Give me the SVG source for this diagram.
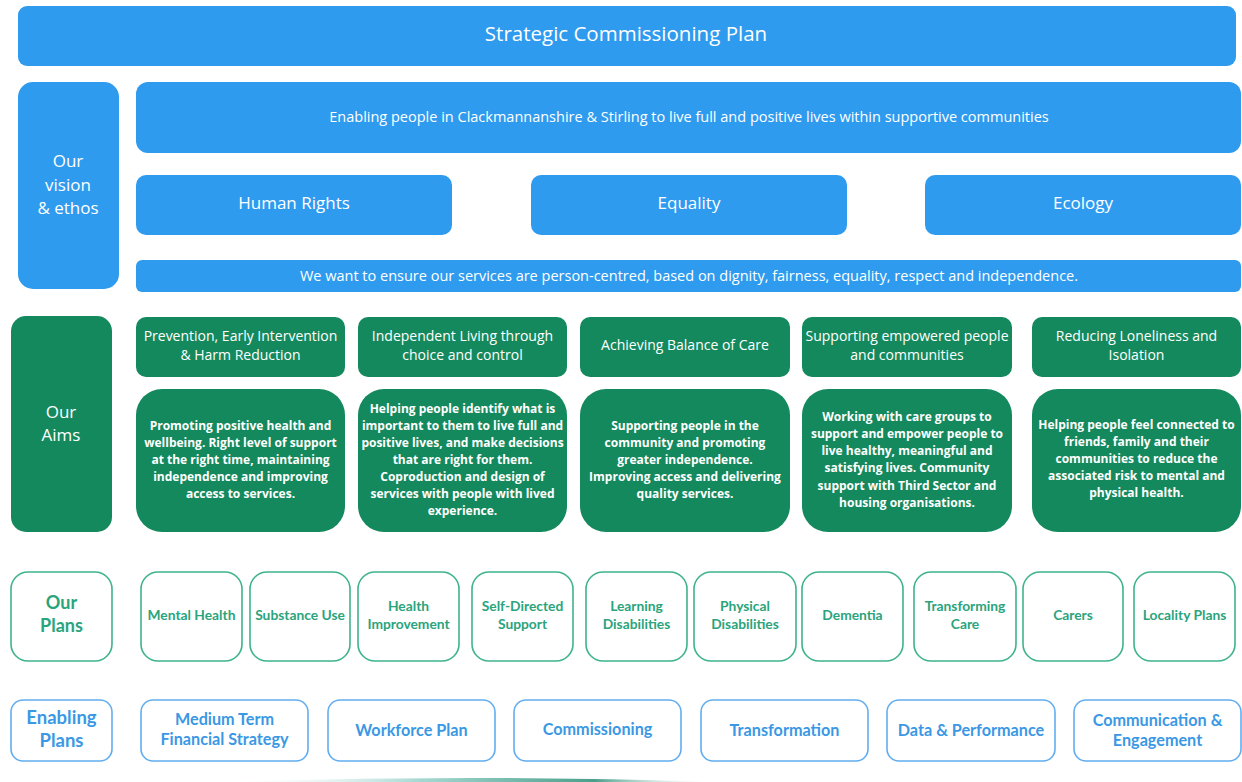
<svg xmlns="http://www.w3.org/2000/svg" width="1242" height="782" viewBox="0 0 1242 782">
<defs>
<style>
.b{fill:#2e9bef}
.g{fill:#14895d}
.pl{fill:#fff;stroke:#3fb48c;stroke-width:1.6}
.en{fill:#fff;stroke:#62adf0;stroke-width:1.6}
text{font-family:"Open Sans","DejaVu Sans",sans-serif;fill:#fff;text-anchor:middle}
.t1{font-size:20.5px}
.t2{font-size:17px}
.t3{font-size:14.5px}
.t4{font-size:14px}
.t5{font-size:12px;font-weight:700}
.p{font-family:Lato,"Liberation Sans",sans-serif;font-weight:700;font-size:13.8px;fill:#2aa47c}
.pL{font-family:Lato,"Liberation Sans",sans-serif;font-weight:700;font-size:18px;fill:#2aa47c}
.e{font-family:Lato,"Liberation Sans",sans-serif;font-weight:700;font-size:16.2px;fill:#3a98e4}
.eL{font-family:Lato,"Liberation Sans",sans-serif;font-weight:700;font-size:18.5px;fill:#3a98e4}
</style>
<linearGradient id="sw" x1="0" y1="0" x2="1" y2="0">
<stop offset="0" stop-color="#ffffff" stop-opacity="0"/>
<stop offset="0.4" stop-color="#a6d8d2"/>
<stop offset="0.75" stop-color="#4a9f8a"/>
<stop offset="1" stop-color="#ffffff" stop-opacity="0"/>
</linearGradient>
</defs>
<rect width="1242" height="782" fill="#fff"/>

<g id="title"><rect class="b" x="18" y="6" width="1218" height="60" rx="9"/><text class="t1" x="626" y="41">Strategic Commissioning Plan</text></g>

<g id="vision"><rect class="b" x="18" y="82" width="101" height="207" rx="15"/>
<text class="t2" x="68" y="167">Our</text><text class="t2" x="68" y="191">vision</text><text class="t2" x="68" y="214">&amp; ethos</text></g>
<g id="enabling-people"><rect class="b" x="136" y="82" width="1105" height="71" rx="12"/><text class="t3" x="689" y="122">Enabling people in Clackmannanshire &amp; Stirling to live full and positive lives within supportive communities</text></g>
<g id="human-rights"><rect class="b" x="136" y="175" width="316" height="60" rx="10"/><text class="t2" x="294" y="209">Human Rights</text></g>
<g id="equality"><rect class="b" x="531" y="175" width="316" height="60" rx="10"/><text class="t2" x="689" y="209">Equality</text></g>
<g id="ecology"><rect class="b" x="925" y="175" width="316" height="60" rx="10"/><text class="t2" x="1083" y="209">Ecology</text></g>
<g id="ethos"><rect class="b" x="136" y="260" width="1105" height="32" rx="6"/><text class="t3" x="689" y="281">We want to ensure our services are person-centred, based on dignity, fairness, equality, respect and independence.</text></g>

<g id="aims"><rect class="g" x="11" y="316" width="101" height="216" rx="15"/>
<text class="t2" x="61" y="418">Our</text><text class="t2" x="61" y="441">Aims</text></g>

<g id="aim1-title"><rect class="g" x="136" y="317" width="209" height="60" rx="10"/><text class="t4" x="240.5" y="341">Prevention,  Early Intervention</text><text class="t4" x="240.5" y="360">&amp; Harm Reduction</text></g>
<g id="aim2-title"><rect class="g" x="358" y="317" width="209" height="60" rx="10"/><text class="t4" x="462.5" y="341">Independent Living through</text><text class="t4" x="462.5" y="360">choice and control</text></g>
<g id="aim3-title"><rect class="g" x="580" y="317" width="210" height="60" rx="10"/><text class="t4" x="685" y="350">Achieving Balance of Care</text></g>
<g id="aim4-title"><rect class="g" x="802" y="317" width="210" height="60" rx="10"/><text class="t4" x="907" y="341">Supporting empowered people</text><text class="t4" x="907" y="360">and communities</text></g>
<g id="aim5-title"><rect class="g" x="1032" y="317" width="209" height="60" rx="10"/><text class="t4" x="1136.5" y="341">Reducing Loneliness and</text><text class="t4" x="1136.5" y="360">Isolation</text></g>

<g id="aim1-desc"><rect class="g" x="136" y="389" width="209" height="143" rx="26"/>
<text class="t5" x="240.5" y="430">Promoting positive health and</text>
<text class="t5" x="240.5" y="447">wellbeing.  Right level of support</text>
<text class="t5" x="240.5" y="464">at the right time, maintaining</text>
<text class="t5" x="240.5" y="481">independence and improving</text>
<text class="t5" x="240.5" y="498">access to services.</text></g>
<g id="aim2-desc"><rect class="g" x="358" y="389" width="209" height="143" rx="26"/>
<text class="t5" x="462.5" y="413">Helping people identify what is</text>
<text class="t5" x="462.5" y="430">important to them to live full and</text>
<text class="t5" x="462.5" y="447">positive lives, and make decisions</text>
<text class="t5" x="462.5" y="464">that are right for them.</text>
<text class="t5" x="462.5" y="481">Coproduction and design of</text>
<text class="t5" x="462.5" y="498">services with people with lived</text>
<text class="t5" x="462.5" y="515">experience.</text></g>
<g id="aim3-desc"><rect class="g" x="580" y="389" width="210" height="143" rx="26"/>
<text class="t5" x="685" y="430">Supporting people in the</text>
<text class="t5" x="685" y="447">community and promoting</text>
<text class="t5" x="685" y="464">greater independence.</text>
<text class="t5" x="685" y="481">Improving access and delivering</text>
<text class="t5" x="685" y="498">quality services.</text></g>
<g id="aim4-desc"><rect class="g" x="802" y="389" width="210" height="143" rx="26"/>
<text class="t5" x="907" y="421">Working with care groups to</text>
<text class="t5" x="907" y="438">support and empower people to</text>
<text class="t5" x="907" y="455">live healthy, meaningful and</text>
<text class="t5" x="907" y="472">satisfying lives.  Community</text>
<text class="t5" x="907" y="490">support with Third Sector and</text>
<text class="t5" x="907" y="507">housing organisations.</text></g>
<g id="aim5-desc"><rect class="g" x="1032" y="389" width="209" height="143" rx="26"/>
<text class="t5" x="1136.5" y="429">Helping people feel connected to</text>
<text class="t5" x="1136.5" y="446">friends, family and their</text>
<text class="t5" x="1136.5" y="463">communities to reduce the</text>
<text class="t5" x="1136.5" y="480">associated risk to mental and</text>
<text class="t5" x="1136.5" y="497">physical health.</text></g>

<g id="our-plans"><rect class="pl" x="11" y="572" width="101" height="89" rx="17"/><text class="pL" x="61.5" y="609">Our</text><text class="pL" x="61.5" y="632">Plans</text></g>
<g id="plan-mental-health"><rect class="pl" x="141" y="572" width="101" height="89" rx="17"/><text class="p" x="191.5" y="620">Mental Health</text></g>
<g id="plan-substance-use"><rect class="pl" x="250" y="572" width="100" height="89" rx="17"/><text class="p" x="300" y="620">Substance Use</text></g>
<g id="plan-health-improvement"><rect class="pl" x="358" y="572" width="101" height="89" rx="17"/><text class="p" x="408.5" y="611">Health</text><text class="p" x="408.5" y="629">Improvement</text></g>
<g id="plan-sds"><rect class="pl" x="472" y="572" width="101" height="89" rx="17"/><text class="p" x="522.5" y="611">Self-Directed</text><text class="p" x="522.5" y="629">Support</text></g>
<g id="plan-ld"><rect class="pl" x="586" y="572" width="101" height="89" rx="17"/><text class="p" x="636.5" y="611">Learning</text><text class="p" x="636.5" y="629">Disabilities</text></g>
<g id="plan-pd"><rect class="pl" x="694" y="572" width="102" height="89" rx="17"/><text class="p" x="745" y="611">Physical</text><text class="p" x="745" y="629">Disabilities</text></g>
<g id="plan-dementia"><rect class="pl" x="802" y="572" width="101" height="89" rx="17"/><text class="p" x="852.5" y="620">Dementia</text></g>
<g id="plan-tc"><rect class="pl" x="914" y="572" width="102" height="89" rx="17"/><text class="p" x="965" y="611">Transforming</text><text class="p" x="965" y="629">Care</text></g>
<g id="plan-carers"><rect class="pl" x="1023" y="572" width="100" height="89" rx="17"/><text class="p" x="1073" y="620">Carers</text></g>
<g id="plan-locality"><rect class="pl" x="1134" y="572" width="101" height="89" rx="17"/><text class="p" x="1184.5" y="620">Locality Plans</text></g>

<g id="enabling-plans"><rect class="en" x="11" y="700" width="101" height="61" rx="12"/><text class="eL" x="61.5" y="724">Enabling</text><text class="eL" x="61.5" y="747">Plans</text></g>
<g id="ep-mtfs"><rect class="en" x="141" y="700" width="167" height="61" rx="12"/><text class="e" x="224.5" y="725">Medium Term</text><text class="e" x="224.5" y="745">Financial Strategy</text></g>
<g id="ep-workforce"><rect class="en" x="328" y="700" width="167" height="61" rx="12"/><text class="e" x="411.5" y="736">Workforce Plan</text></g>
<g id="ep-commissioning"><rect class="en" x="514" y="700" width="167" height="61" rx="12"/><text class="e" x="597.5" y="735">Commissioning</text></g>
<g id="ep-transformation"><rect class="en" x="701" y="700" width="167" height="61" rx="12"/><text class="e" x="784.5" y="736">Transformation</text></g>
<g id="ep-data"><rect class="en" x="887" y="700" width="168" height="61" rx="12"/><text class="e" x="971" y="736">Data &amp; Performance</text></g>
<g id="ep-comms"><rect class="en" x="1074" y="700" width="167" height="61" rx="12"/><text class="e" x="1157.5" y="726">Communication &amp;</text><text class="e" x="1157.5" y="746">Engagement</text></g>

<g id="connectors"></g>
<path d="M220 782 Q470 774 720 782 Z" fill="url(#sw)"/>
</svg>
